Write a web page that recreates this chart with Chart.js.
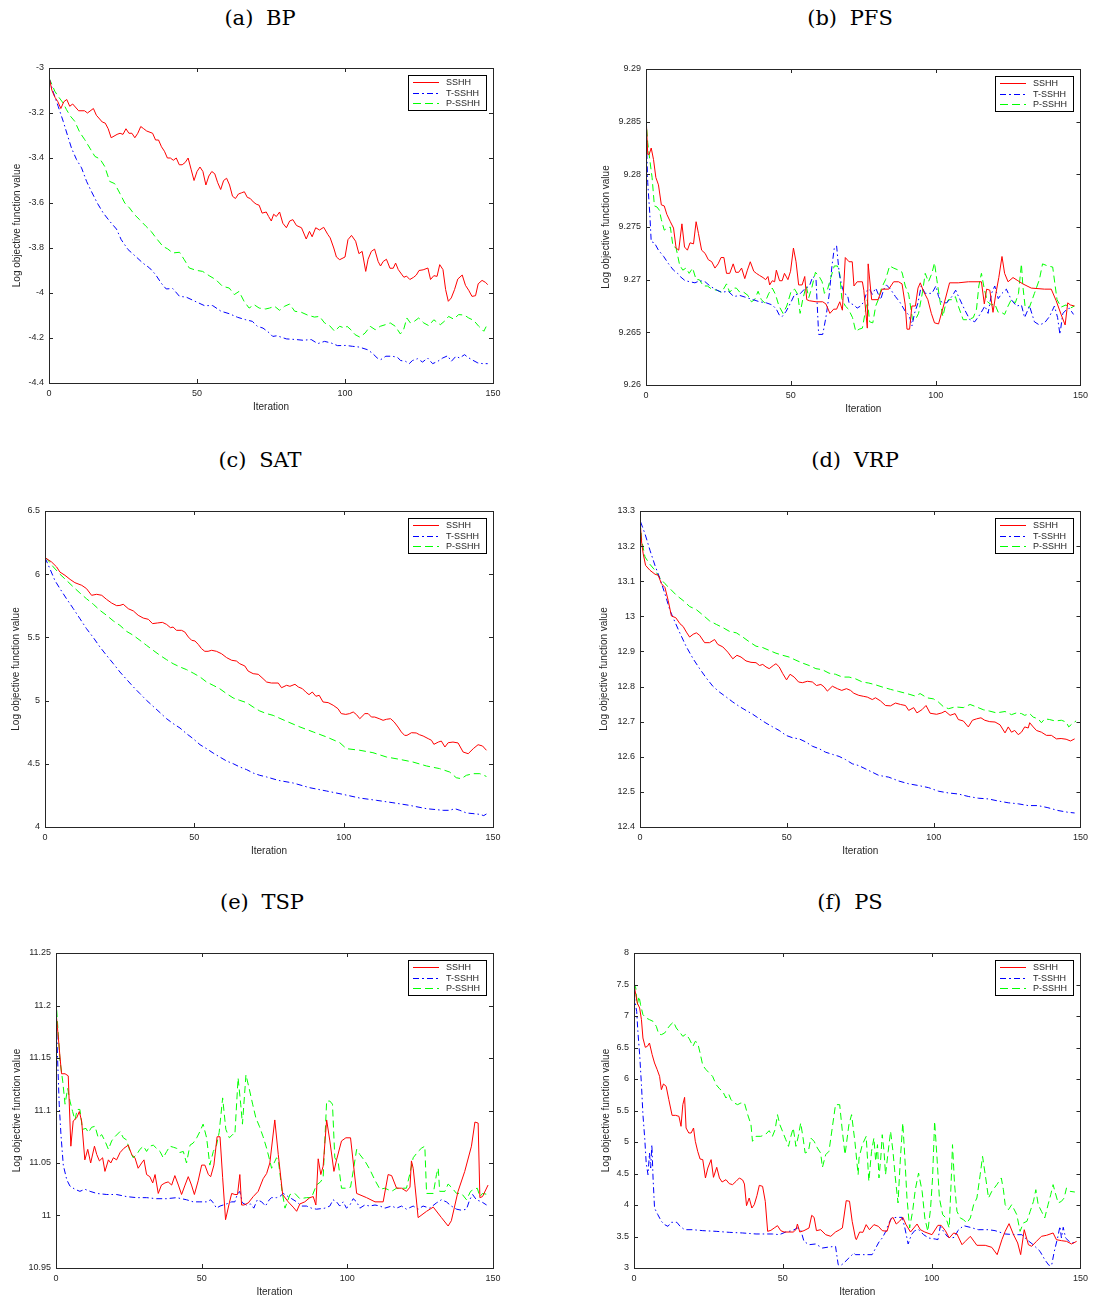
<!DOCTYPE html>
<html>
<head>
<meta charset="utf-8">
<script src="https://cdn.jsdelivr.net/npm/chart.js@4.4.1/dist/chart.umd.min.js"></script>
<style>
  body { margin: 0; background: #fff; width: 1093px; height: 1300px; position: relative; overflow: hidden; }
  .title { position: absolute; width: 300px; text-align: center; font-family: "DejaVu Serif", serif; font-size: 21px; line-height: 24px; color: #000; word-spacing: 6px; }
  canvas { position: absolute; }
</style>
</head>
<body>
<script>
// ---- data ----
const seriesNames = ['SSHH', 'T-SSHH', 'P-SSHH'];
const iterTicks = [0, 50, 100, 150];

const bpTicks = [-4.4, -4.2, -4, -3.8, -3.6, -3.4, -3.2, -3];
const pfsTicks = [9.26, 9.265, 9.27, 9.275, 9.28, 9.285, 9.29];
const satTicks = [4, 4.5, 5, 5.5, 6, 6.5];
const vrpTicks = [12.4, 12.5, 12.6, 12.7, 12.8, 12.9, 13, 13.1, 13.2, 13.3];
const tspTicks = [10.95, 11, 11.05, 11.1, 11.15, 11.2, 11.25];
const psTicks = [3, 3.5, 4, 4.5, 5, 5.5, 6, 6.5, 7, 7.5, 8];

// (a) BP
const bpSSHH = [[0,-3.04],[1,-3.10],[2,-3.13],[3,-3.15],[4,-3.18],[5,-3.15],[6,-3.14],[7,-3.17],[8,-3.16],[10,-3.19],[12,-3.19],[13,-3.20],[15,-3.18],[16,-3.21],[18,-3.24],[19,-3.245],[20,-3.27],[21,-3.31],[23,-3.295],[24,-3.29],[25,-3.295],[26,-3.27],[27,-3.29],[28,-3.29],[29,-3.31],[30,-3.29],[31,-3.26],[32,-3.27],[33,-3.28],[35,-3.29],[36,-3.32],[37,-3.32],[38,-3.35],[39,-3.37],[40,-3.40],[41,-3.40],[42,-3.41],[43,-3.40],[44,-3.43],[45,-3.43],[46,-3.42],[47,-3.40],[48,-3.45],[49,-3.50],[50,-3.46],[51,-3.44],[52,-3.46],[53,-3.52],[54,-3.48],[55,-3.46],[56,-3.47],[57,-3.51],[58,-3.54],[59,-3.50],[60,-3.49],[61,-3.52],[62,-3.57],[63,-3.58],[64,-3.56],[65,-3.555],[66,-3.55],[67,-3.575],[68,-3.58],[69,-3.595],[70,-3.605],[71,-3.61],[72,-3.645],[73.4,-3.64],[74.2,-3.66],[75.1,-3.68],[75.9,-3.65],[76.8,-3.66],[77.9,-3.64],[79,-3.69],[80.2,-3.71],[81.3,-3.68],[82.4,-3.674],[83.6,-3.70],[85.3,-3.71],[86.9,-3.76],[88,-3.726],[88.9,-3.75],[90.1,-3.71],[91.4,-3.72],[92.8,-3.708],[94.2,-3.74],[95,-3.755],[96.2,-3.80],[97.1,-3.84],[98.2,-3.852],[100,-3.84],[101,-3.763],[102.2,-3.744],[103.6,-3.77],[104.7,-3.825],[105.8,-3.815],[107,-3.904],[107.8,-3.85],[108.9,-3.815],[110,-3.805],[111.2,-3.86],[112,-3.88],[112.9,-3.86],[114,-3.85],[115.2,-3.89],[116.3,-3.89],[117.1,-3.867],[118,-3.896],[119.1,-3.916],[119.9,-3.93],[120.8,-3.925],[121.9,-3.94],[123.2,-3.93],[124.1,-3.92],[125,-3.90],[126.4,-3.897],[128,-3.889],[128.9,-3.94],[130,-3.923],[131.1,-3.926],[132,-3.874],[133.1,-3.896],[134,-3.985],[134.9,-4.037],[135.9,-4.022],[137,-3.985],[138.1,-3.938],[139.6,-3.92],[140.7,-3.966],[141.8,-3.988],[142.9,-4.015],[144.1,-4.012],[145,-3.959],[146.3,-3.944],[147.5,-3.953],[148.2,-3.963]];
const bpTSSHH = [[0,-3.044],[1.5,-3.11],[3.1,-3.17],[4.8,-3.237],[6.5,-3.31],[7.6,-3.356],[9.3,-3.407],[11,-3.444],[12.7,-3.504],[14.3,-3.548],[16.3,-3.60],[18.3,-3.644],[20.5,-3.681],[22.8,-3.716],[24.4,-3.763],[26.7,-3.807],[29.5,-3.84],[31.7,-3.867],[34,-3.889],[36,-3.918],[37.9,-3.956],[39.6,-3.982],[41.8,-3.98],[44.1,-4.015],[46.3,-4.018],[49.7,-4.039],[52.5,-4.056],[55.3,-4.056],[58.1,-4.081],[60.9,-4.092],[63.7,-4.108],[66.5,-4.119],[68.7,-4.126],[70.4,-4.148],[72.3,-4.156],[74.5,-4.178],[75.6,-4.193],[77,-4.19],[80.2,-4.204],[83.6,-4.207],[85.8,-4.21],[88.6,-4.207],[90.8,-4.225],[93.1,-4.215],[95.3,-4.222],[97.5,-4.234],[100.3,-4.233],[102.5,-4.237],[104.7,-4.24],[107.6,-4.252],[109.2,-4.267],[110.9,-4.289],[112.1,-4.296],[113.8,-4.281],[116,-4.281],[117.7,-4.286],[118.8,-4.30],[120.5,-4.304],[121.7,-4.314],[122.8,-4.30],[124.5,-4.292],[126.2,-4.307],[127.9,-4.289],[129.6,-4.314],[131.3,-4.304],[133,-4.289],[134.7,-4.279],[135.9,-4.304],[137.5,-4.281],[138.7,-4.289],[140.4,-4.274],[141.5,-4.286],[143.2,-4.299],[144.9,-4.311],[146.6,-4.314],[148.2,-4.314]];
const bpPSSHH = [[0,-3.044],[2,-3.104],[3.1,-3.126],[4.8,-3.156],[5.9,-3.185],[7.3,-3.215],[8.7,-3.237],[10.4,-3.286],[12.1,-3.319],[13.8,-3.356],[15.5,-3.393],[17.2,-3.404],[18.8,-3.437],[20.5,-3.504],[22.2,-3.514],[23.9,-3.556],[25.6,-3.60],[27.2,-3.622],[28.9,-3.652],[30.6,-3.674],[32.8,-3.704],[34.5,-3.726],[36.2,-3.756],[38.5,-3.793],[40.1,-3.804],[41.8,-3.822],[44.1,-3.819],[45.7,-3.852],[47.4,-3.889],[49.7,-3.899],[51.9,-3.904],[54.1,-3.923],[56.4,-3.941],[58.6,-3.97],[60.9,-3.978],[62.6,-4.007],[64.2,-3.993],[65.9,-4.037],[67.6,-4.067],[69.3,-4.052],[71,-4.067],[73.2,-4.071],[74.5,-4.067],[76.2,-4.059],[77.9,-4.077],[79.6,-4.059],[81.3,-4.049],[83,-4.081],[85.3,-4.086],[87.5,-4.099],[89.7,-4.107],[91.4,-4.104],[93.1,-4.133],[94.8,-4.145],[96.5,-4.17],[98.2,-4.148],[99.9,-4.156],[100.7,-4.148],[102.2,-4.166],[103.4,-4.185],[105,-4.196],[106.8,-4.178],[108.5,-4.148],[110.2,-4.163],[111.9,-4.148],[113.6,-4.141],[115.3,-4.133],[117,-4.148],[118.7,-4.182],[119.8,-4.163],[120.9,-4.111],[122.1,-4.133],[123.4,-4.126],[124.9,-4.111],[126.6,-4.133],[128.3,-4.145],[130,-4.119],[132.2,-4.141],[133.9,-4.122],[135,-4.104],[136.7,-4.116],[138.4,-4.096],[140.3,-4.098],[141.8,-4.111],[143.5,-4.122],[145.2,-4.148],[146.9,-4.17],[148,-4.141]];

// (b) PFS
const pfsSSHH = [[0,9.2857],[0.6,9.2819],[1.1,9.2819],[1.8,9.2825],[2.6,9.2814],[3.4,9.2797],[4.3,9.279],[5.3,9.2771],[6.3,9.277],[7.2,9.2762],[8.4,9.2755],[9.5,9.2749],[10.4,9.273],[11.3,9.2728],[12.4,9.2753],[13.3,9.2731],[14.3,9.2728],[15.2,9.2735],[16.4,9.2734],[17.3,9.2755],[18.1,9.2744],[19.2,9.2728],[20.4,9.2725],[21.5,9.2719],[22.7,9.2717],[23.8,9.2711],[24.9,9.2715],[25.9,9.2721],[26.9,9.2721],[27.8,9.2706],[28.9,9.2706],[30.1,9.2715],[31,9.2707],[32,9.2707],[33,9.2711],[34.1,9.2701],[35,9.2709],[36,9.2717],[37.2,9.2708],[38.1,9.2706],[39.2,9.2704],[40.4,9.2702],[41.3,9.27],[42.1,9.2703],[42.7,9.2695],[43.6,9.2699],[44.4,9.2698],[45,9.2709],[46.1,9.2699],[47,9.2699],[47.8,9.2706],[49,9.27],[49.9,9.2708],[50.9,9.273],[51.8,9.2717],[52.7,9.2695],[53.9,9.2695],[54.8,9.2703],[55.5,9.2681],[56.4,9.268],[58.7,9.2679],[61,9.2679],[62.1,9.2677],[63.5,9.2668],[64.8,9.2672],[65.8,9.2672],[66.9,9.2679],[67.8,9.2671],[68.8,9.2721],[70.1,9.2717],[71.2,9.2717],[71.8,9.2694],[72.9,9.2698],[74.7,9.2698],[75.2,9.269],[76.4,9.2654],[76.7,9.2715],[77.9,9.2681],[80.1,9.2681],[81.5,9.2691],[83.8,9.2691],[85.5,9.2698],[87.2,9.2698],[88.4,9.2696],[89.5,9.2676],[90.1,9.2653],[91,9.2653],[91.8,9.2675],[93,9.2675],[93.9,9.2692],[94.7,9.2697],[95.8,9.2689],[97.3,9.2681],[98.5,9.2668],[99.6,9.2659],[101,9.2658],[102.7,9.2675],[104.8,9.2697],[107.8,9.2697],[111.3,9.2698],[115.8,9.2698],[116.8,9.2677],[117.6,9.2691],[118.7,9.269],[119.8,9.2669],[120.8,9.2687],[121.8,9.2702],[122.9,9.2722],[123.8,9.2706],[125,9.2698],[126.7,9.2702],[128.4,9.2699],[130.1,9.2696],[133,9.2692],[137.6,9.2691],[139.9,9.2691],[141.6,9.268],[143.3,9.2667],[144.7,9.2657],[145.6,9.2678],[146.5,9.2676],[147.9,9.2675]];
const pfsTSSHH = [[0,9.2846],[0.6,9.2792],[1.3,9.2763],[1.8,9.2736],[2.9,9.2735],[4.3,9.2728],[6.1,9.2722],[7.8,9.2715],[9.5,9.2709],[10.9,9.2706],[11.8,9.2703],[13.5,9.2699],[15.2,9.2698],[16.9,9.2697],[18.6,9.2699],[20.4,9.2698],[22.1,9.2694],[23.8,9.2691],[26.1,9.2688],[28.4,9.2689],[30.3,9.2684],[32.4,9.2685],[34.7,9.2683],[37,9.2681],[39.2,9.2679],[41.5,9.2678],[43.6,9.2676],[45,9.2672],[46.1,9.2666],[47,9.2665],[48.4,9.267],[50.1,9.2679],[51.3,9.2686],[53,9.2686],[54.7,9.2691],[56.4,9.2694],[57.6,9.2703],[58.7,9.27],[59.6,9.2648],[61,9.2648],[62.1,9.2664],[63.3,9.2687],[64.2,9.2713],[65,9.273],[65.8,9.2732],[66.7,9.2706],[67.6,9.2694],[68.4,9.2687],[69.6,9.2685],[70.1,9.2678],[71.8,9.2676],[72.9,9.2673],[74.1,9.2675],[75.2,9.2679],[76.4,9.269],[77.2,9.2691],[78.1,9.2686],[79.3,9.2692],[81,9.2681],[82.1,9.2691],[83,9.2695],[84.4,9.2691],[86.1,9.2684],[87.8,9.2678],[89.5,9.267],[90.9,9.2666],[91.8,9.2656],[92.7,9.2668],[93.9,9.2678],[95,9.2694],[96.4,9.2687],[98.7,9.2687],[100.1,9.2694],[101,9.2684],[102.2,9.2678],[103.8,9.2678],[105.6,9.2684],[106.9,9.269],[108.4,9.2681],[110.1,9.2671],[111.8,9.2662],[113.5,9.266],[115.3,9.2667],[117,9.2675],[118.1,9.2668],[119.3,9.2687],[120.4,9.2694],[121.6,9.2682],[122.9,9.2687],[124.4,9.2691],[126.1,9.2681],[127.9,9.2675],[129.6,9.2676],[130.7,9.2664],[132.4,9.2675],[134.1,9.266],[135.8,9.2657],[137.6,9.2659],[139.3,9.2665],[141,9.2675],[142.1,9.2664],[142.9,9.2648],[143.9,9.2668],[145,9.2671],[146.1,9.2673],[147.6,9.2667]];
const pfsPSSHH = [[0,9.2853],[0.6,9.283],[1.3,9.2814],[2.1,9.2797],[2.9,9.277],[3.8,9.2769],[4.6,9.2766],[5.3,9.2757],[6.3,9.2747],[7.4,9.2749],[8.4,9.275],[9.3,9.2732],[10.4,9.273],[11.6,9.2714],[12.7,9.2709],[13.8,9.2711],[14.9,9.2706],[16.1,9.2711],[17.3,9.27],[18.4,9.27],[19.8,9.2694],[21.2,9.2694],[22.7,9.2691],[24.4,9.269],[26.1,9.2688],[27.8,9.2696],[28.9,9.2688],[30.1,9.2692],[31.2,9.2692],[32.4,9.2688],[33.8,9.2688],[35.2,9.2685],[36.4,9.2679],[37.5,9.2681],[38.7,9.2689],[39.8,9.2681],[41,9.2678],[42.4,9.2687],[43.6,9.2692],[44.7,9.2686],[45.9,9.2675],[47.3,9.2668],[48.6,9.2675],[50.1,9.2689],[51.3,9.2691],[52.4,9.2686],[53.2,9.2668],[54.1,9.2681],[55.3,9.2694],[56.2,9.2683],[57.3,9.2693],[58.5,9.2707],[59.8,9.2703],[60.8,9.2698],[61.6,9.2687],[62.7,9.2691],[63.8,9.2702],[65,9.2713],[66.1,9.2713],[66.9,9.2705],[67.6,9.2682],[68.8,9.2675],[69.9,9.2672],[71.3,9.2664],[72.4,9.2651],[73.6,9.2653],[74.7,9.2654],[75.6,9.2668],[76.4,9.2681],[77.2,9.266],[78.3,9.2659],[79.3,9.2675],[80.2,9.2681],[81.3,9.2692],[82.7,9.27],[84.1,9.2713],[85.5,9.2711],[87.2,9.2709],[88.4,9.2707],[89.5,9.2694],[90.7,9.2686],[92,9.2662],[93,9.2662],[94.1,9.2668],[95.5,9.2689],[96.4,9.2706],[97.5,9.2698],[98.7,9.2706],[99.6,9.2716],[100.4,9.27],[101.6,9.2678],[102.5,9.2665],[103.3,9.2675],[104.4,9.2681],[105.6,9.2681],[106.8,9.2684],[107.8,9.2675],[109.5,9.2662],[111.3,9.2662],[113,9.2664],[114.1,9.2672],[114.9,9.2694],[115.8,9.2706],[116.8,9.2691],[117.9,9.2679],[119.3,9.2676],[120.4,9.2677],[121.6,9.2669],[122.7,9.2669],[123.8,9.2667],[125,9.2675],[126.1,9.2681],[127.5,9.2678],[128.6,9.2687],[129.6,9.2715],[130.1,9.2694],[130.9,9.2674],[132.4,9.2674],[134.1,9.2687],[135.8,9.27],[136.9,9.2715],[138.7,9.2713],[140.4,9.2712],[141.9,9.2681],[143.3,9.2674],[145,9.2676],[146.5,9.2673],[147.9,9.2675]];

// (c) SAT
const satSSHH = [[0,6.131],[2.2,6.097],[3.9,6.057],[5,6.017],[6.7,5.991],[8.4,5.959],[10,5.933],[12.3,5.912],[13.9,5.886],[15.6,5.833],[17.3,5.841],[19,5.833],[20.6,5.801],[22.3,5.772],[24,5.751],[25.1,5.753],[26.2,5.762],[27.9,5.727],[29.6,5.709],[31.2,5.675],[32.9,5.653],[34.6,5.643],[36,5.609],[37.6,5.614],[39.3,5.619],[40.7,5.603],[42,5.577],[42.9,5.582],[44,5.556],[45.7,5.556],[46.8,5.543],[48,5.503],[49.1,5.477],[50.2,5.472],[51.3,5.445],[52.4,5.411],[53.5,5.39],[54.6,5.39],[55.8,5.398],[57.4,5.39],[59.1,5.371],[60.8,5.34],[62.5,5.319],[64.1,5.313],[65.2,5.292],[66.9,5.274],[68,5.234],[69.7,5.213],[71.4,5.208],[73,5.174],[74.2,5.147],[75.8,5.139],[78.1,5.139],[79.2,5.102],[80.9,5.121],[82,5.113],[83.7,5.129],[84.8,5.108],[86.2,5.094],[87.3,5.068],[88.4,5.047],[89.5,5.068],[90.7,5.034],[91.8,5.042],[93.1,4.989],[94.8,4.984],[96.5,4.963],[98.1,4.936],[99.2,4.897],[100.7,4.891],[102,4.897],[103.2,4.91],[104.3,4.889],[105.4,4.857],[107.1,4.897],[108.2,4.897],[109.3,4.87],[110.4,4.87],[111.9,4.857],[113.2,4.844],[114.3,4.852],[115.7,4.857],[116.9,4.831],[118.2,4.791],[119.3,4.752],[120.4,4.725],[121.2,4.725],[122.7,4.746],[124.3,4.744],[125.4,4.73],[126.6,4.72],[128.3,4.699],[129.4,4.686],[130.2,4.654],[131.7,4.672],[132.7,4.68],[133.9,4.633],[135,4.667],[136.6,4.672],[138.3,4.665],[140,4.593],[141.7,4.58],[143.4,4.62],[145,4.651],[146.5,4.641],[147.8,4.607]];
const satTSSHH = [[0,6.131],[1.7,6.04],[3.3,5.951],[5,5.886],[7.2,5.806],[9.5,5.727],[11.7,5.648],[13.9,5.569],[16.2,5.498],[18.4,5.424],[20.6,5.358],[22.9,5.292],[25.1,5.226],[27.3,5.168],[29.6,5.108],[31.8,5.055],[34,5.002],[36.2,4.955],[38.5,4.905],[40.7,4.857],[42.9,4.818],[45.2,4.783],[47.4,4.738],[49.6,4.699],[51.9,4.651],[54.1,4.62],[56.3,4.585],[58.5,4.554],[60.8,4.522],[63,4.501],[65.2,4.475],[67.5,4.454],[69.7,4.427],[71.9,4.409],[74.2,4.396],[78.1,4.369],[83.1,4.348],[88.6,4.311],[94.2,4.285],[99.8,4.258],[105.4,4.229],[111,4.211],[116.5,4.192],[122.1,4.171],[127.7,4.145],[133.3,4.132],[135.5,4.132],[137.2,4.145],[138.9,4.132],[141.1,4.111],[143.3,4.106],[145.6,4.1],[146.9,4.09],[147.8,4.103]];
const satPSSHH = [[0,6.131],[0.6,6.123],[2.8,6.057],[5,6.0],[7.2,5.951],[9.5,5.899],[11.7,5.851],[13.9,5.806],[16.2,5.762],[18.4,5.714],[20.6,5.675],[22.9,5.63],[25.1,5.595],[27.3,5.548],[29.6,5.516],[31.8,5.477],[34,5.437],[36.2,5.398],[38.5,5.358],[40.7,5.324],[42.9,5.292],[45.2,5.266],[47.4,5.245],[49.6,5.218],[51.9,5.187],[54.1,5.147],[56.3,5.121],[58.5,5.094],[60.8,5.055],[63,5.021],[65.2,5.002],[67.5,4.984],[69.7,4.949],[71.9,4.918],[74.2,4.897],[76.4,4.883],[80.9,4.836],[85.4,4.791],[89.8,4.752],[94.3,4.712],[98.7,4.667],[100.9,4.62],[105.4,4.607],[109.8,4.588],[114.3,4.554],[118.8,4.535],[123.2,4.514],[127.7,4.483],[132.1,4.462],[135.5,4.435],[137.7,4.39],[139.4,4.382],[141.1,4.409],[143.4,4.422],[145.6,4.422],[147.8,4.4]];

// (d) VRP
const vrpSSHH = [[0,13.273],[0.6,13.207],[1.1,13.178],[1.9,13.145],[3.4,13.131],[5.1,13.12],[6.2,13.117],[7.3,13.093],[8.5,13.082],[9.6,13.045],[10.7,13.001],[12.2,12.996],[13.6,12.979],[14.7,12.971],[15.8,12.955],[16.9,12.941],[18.1,12.949],[19.2,12.953],[20.3,12.946],[22,12.925],[23.7,12.925],[25.4,12.934],[26.5,12.92],[28.2,12.913],[29.9,12.898],[31.6,12.879],[33,12.889],[34.4,12.884],[36.1,12.873],[37.8,12.869],[39.5,12.868],[40.7,12.86],[41.8,12.863],[42.9,12.856],[44,12.851],[45.4,12.86],[46.3,12.865],[47.4,12.856],[48.6,12.837],[49.9,12.819],[51.1,12.835],[52.5,12.827],[54,12.813],[55.3,12.811],[57,12.815],[58.7,12.813],[60.1,12.803],[61.6,12.806],[62.7,12.799],[63.8,12.787],[65.5,12.801],[67.2,12.794],[68.7,12.789],[70.3,12.794],[71.7,12.789],[72.8,12.781],[74.5,12.775],[76.2,12.772],[77.4,12.77],[79.1,12.763],[80.2,12.768],[81.9,12.759],[83.6,12.746],[85.3,12.745],[87,12.753],[88.7,12.749],[90.4,12.746],[91.5,12.732],[93.2,12.74],[94.3,12.725],[96,12.734],[97.4,12.746],[98.8,12.724],[101,12.721],[102.8,12.725],[103.9,12.73],[105.6,12.718],[107.3,12.723],[108.4,12.706],[110.1,12.702],[111.8,12.685],[113.2,12.704],[114.6,12.708],[116.1,12.711],[117.4,12.704],[119.1,12.7],[120.9,12.699],[122.6,12.691],[124.3,12.668],[125.4,12.685],[126.5,12.67],[127.6,12.675],[128.8,12.663],[129.9,12.67],[131,12.685],[132.2,12.682],[132.7,12.697],[133.9,12.685],[135,12.675],[136.7,12.67],[138.4,12.661],[140.1,12.661],[141.8,12.651],[143.4,12.652],[145.1,12.65],[146.6,12.645],[148,12.651]];
const vrpTSSHH = [[0.2,13.269],[1.7,13.235],[3.4,13.188],[5.1,13.145],[6.8,13.107],[8.5,13.064],[10.2,13.017],[11.9,12.984],[13.6,12.952],[15.8,12.913],[18.1,12.879],[20.3,12.851],[22.6,12.824],[24.8,12.801],[27.1,12.784],[29.4,12.77],[31.6,12.756],[33.9,12.743],[36.1,12.732],[38.4,12.721],[40.7,12.708],[42.9,12.696],[45.2,12.685],[47.4,12.675],[49.7,12.661],[52,12.654],[54.2,12.651],[56.5,12.642],[58.7,12.63],[61,12.623],[63.2,12.613],[65.5,12.607],[67.8,12.601],[70,12.592],[72.3,12.58],[74.5,12.575],[77.9,12.561],[81.3,12.547],[84.7,12.542],[88.1,12.531],[91.5,12.523],[94.9,12.518],[98.3,12.512],[101.6,12.502],[105,12.497],[108.4,12.494],[111.8,12.487],[115.2,12.482],[118.6,12.48],[122,12.474],[125.4,12.469],[128.8,12.466],[132.2,12.461],[135.5,12.461],[138.9,12.455],[142.3,12.447],[145.7,12.442],[148,12.44]];
const vrpPSSHH = [[0,13.269],[0.6,13.216],[1.7,13.169],[3.4,13.148],[5.1,13.131],[6.8,13.109],[8.5,13.093],[10.2,13.079],[12.4,13.06],[14.7,13.045],[16.9,13.028],[19.2,13.019],[21.5,13.003],[23.7,12.987],[26,12.977],[28.2,12.968],[30.5,12.957],[32.8,12.953],[35,12.941],[37.3,12.927],[39.5,12.915],[41.8,12.911],[44,12.903],[46.3,12.895],[48.6,12.889],[50.8,12.884],[53.1,12.875],[55.3,12.867],[57.6,12.86],[59.9,12.851],[62.1,12.848],[64.4,12.838],[66.6,12.835],[68.9,12.827],[71.2,12.827],[73.4,12.822],[75.7,12.813],[77.9,12.81],[80.2,12.805],[82.4,12.799],[85.3,12.792],[88.1,12.786],[90.9,12.78],[93.7,12.773],[95.4,12.78],[97.7,12.768],[99.9,12.765],[101.6,12.756],[103.4,12.742],[105.1,12.737],[107.3,12.742],[110.1,12.74],[112.4,12.749],[114.6,12.742],[116.9,12.734],[119.1,12.73],[121.4,12.725],[124.3,12.729],[126.5,12.72],[128.2,12.725],[129.9,12.723],[131,12.718],[132.7,12.723],[133.9,12.713],[135.6,12.708],[136.7,12.697],[137.8,12.708],[139.5,12.706],[141.3,12.702],[143.5,12.704],[145.1,12.699],[146,12.685],[147.4,12.696],[148.5,12.702]];

// (e) TSP
const tspSSHH = [[0,11.194],[0.5,11.179],[1.4,11.15],[1.9,11.135],[3.1,11.135],[4.2,11.133],[5.1,11.066],[5.9,11.09],[7.1,11.093],[8,11.099],[8.8,11.09],[9.9,11.053],[10.9,11.063],[11.9,11.05],[13.2,11.066],[14,11.058],[14.9,11.052],[16,11.055],[16.8,11.042],[18,11.053],[18.8,11.05],[19.7,11.055],[20.8,11.053],[22,11.06],[23.3,11.064],[24.8,11.067],[26,11.058],[27.1,11.055],[28.2,11.045],[29.4,11.05],[30.2,11.053],[31.1,11.039],[32.2,11.037],[33.2,11.031],[34,11.039],[35.1,11.021],[36.2,11.029],[37.4,11.031],[38.5,11.032],[39.7,11.029],[40.8,11.038],[42,11.029],[43.1,11.02],[44.3,11.029],[45.4,11.037],[46.5,11.029],[47.5,11.02],[48.8,11.033],[50,11.048],[51.1,11.048],[52.3,11.039],[53.1,11.037],[54.2,11.048],[55.3,11.075],[56.3,11.075],[57.2,11.036],[58.2,10.996],[59.5,11.012],[60.3,11.021],[61.4,11.02],[62.3,11.02],[63.1,11.039],[63.7,11.01],[64.5,11.01],[66,11.012],[67.7,11.018],[69.4,11.023],[71.1,11.035],[72.3,11.04],[73.4,11.05],[75.1,11.091],[76.3,11.058],[77.8,11.02],[79.7,11.013],[81.4,11.008],[82.6,11.004],[83.7,11.011],[85.4,11.013],[87.1,11.017],[88.3,11.018],[89.2,11.01],[90,11.054],[90.9,11.039],[91.7,11.047],[92.9,11.091],[94,11.071],[95.4,11.042],[96.3,11.053],[98,11.071],[99.5,11.074],[101.1,11.074],[103.2,11.021],[106.6,11.017],[109.5,11.013],[112.3,11.013],[114,11.039],[115.2,11.038],[116.9,11.026],[118.6,11.026],[120.3,11.023],[121.5,11.027],[122,11.052],[122.6,11.045],[123.2,11.029],[124.3,10.998],[127.2,11.004],[129.5,11.008],[132.3,10.998],[134.6,10.99],[135.7,10.995],[138,11.023],[140.3,11.042],[142.6,11.066],[143.8,11.089],[144.9,11.088],[145.5,11.017],[146.4,11.018],[148.3,11.029]];
const tspTSSHH = [[0,11.199],[0.5,11.153],[1.1,11.106],[1.7,11.077],[2.5,11.048],[3.7,11.034],[4.8,11.028],[6.5,11.025],[8.2,11.023],[9.9,11.025],[11.7,11.023],[14,11.021],[17.4,11.02],[20.8,11.02],[24.2,11.018],[27.7,11.017],[31.1,11.017],[34.5,11.016],[38,11.016],[41.4,11.017],[44.8,11.015],[47.1,11.013],[49.4,11.013],[51.7,11.013],[53.1,11.015],[54,11.012],[55.1,11.007],[56.3,11.009],[58.5,11.011],[60.3,11.013],[61.4,11.013],[62.2,11.02],[63.1,11.023],[64,11.012],[65.4,11.01],[66.8,11.011],[67.9,11.007],[69.1,11.015],[70.6,11.013],[71.9,11.009],[73.2,11.015],[74,11.017],[75.7,11.017],[76.8,11.018],[78,11.021],[79.7,11.018],[80.9,11.016],[82.6,11.013],[84.3,11.009],[86,11.009],[87.7,11.007],[89.4,11.006],[92.3,11.007],[94,11.009],[95.1,11.015],[96.3,11.013],[97.4,11.009],[98.6,11.013],[99.7,11.007],[100.9,11.01],[102,11.016],[103.2,11.013],[104.3,11.007],[106,11.01],[107.7,11.009],[109.5,11.01],[111.2,11.009],[112.9,11.007],[115.2,11.009],[116.9,11.007],[118.6,11.009],[120.3,11.006],[122.6,11.009],[124.3,11.006],[126,11.009],[128.3,11.007],[130.6,11.012],[132.3,11.015],[134,11.013],[135.7,11.009],[137.5,11.006],[139.2,11.005],[140.9,11.006],[142,11.015],[143,11.02],[144.3,11.015],[146.1,11.013],[147.8,11.01]];
const tspPSSHH = [[0,11.206],[0.8,11.172],[1.4,11.147],[2.3,11.128],[3.1,11.106],[4,11.121],[4.8,11.109],[5.7,11.099],[6.5,11.091],[7.3,11.101],[8.2,11.101],[9.1,11.082],[10.3,11.083],[11.1,11.079],[12.2,11.084],[13.4,11.085],[14.5,11.074],[15.7,11.077],[16.8,11.071],[18,11.063],[19.1,11.071],[20.2,11.075],[22,11.08],[23.1,11.074],[24.2,11.072],[25.4,11.061],[26.5,11.055],[27.7,11.058],[28.8,11.063],[30,11.066],[31.1,11.061],[32.2,11.066],[33.4,11.067],[34.5,11.064],[35.7,11.061],[36.8,11.055],[38,11.061],[39.1,11.066],[40.3,11.065],[41.4,11.064],[42.5,11.06],[43.7,11.061],[44.8,11.05],[46,11.067],[47.1,11.069],[48.3,11.074],[49.4,11.08],[50.5,11.087],[51.7,11.074],[52.8,11.048],[54,11.061],[55.1,11.067],[56,11.079],[57.2,11.112],[58.3,11.082],[59.5,11.074],[60.6,11.077],[61.4,11.077],[62.5,11.131],[63.4,11.106],[64,11.087],[65.2,11.134],[66.3,11.121],[67.5,11.106],[68.6,11.093],[69.8,11.085],[71.1,11.075],[72.3,11.064],[73.4,11.052],[74,11.045],[75.7,11.055],[76.3,11.053],[77.6,11.023],[78.6,11.007],[80.3,11.02],[82,11.021],[83.7,11.016],[86,11.017],[87.7,11.017],[89.4,11.029],[90.8,11.032],[91.7,11.036],[92.9,11.109],[94,11.109],[94.9,11.106],[95.7,11.055],[96.9,11.05],[98,11.026],[99.5,11.026],[101.1,11.027],[102,11.042],[103.2,11.063],[104.3,11.058],[106,11.052],[107.7,11.044],[109.4,11.034],[111.2,11.025],[112.9,11.026],[115.2,11.023],[116.9,11.026],[118.6,11.026],[120.3,11.026],[121.4,11.039],[122.6,11.055],[124.3,11.061],[125.4,11.064],[126.6,11.066],[127.2,11.021],[129.5,11.021],[130.6,11.039],[131.2,11.045],[131.7,11.023],[133.5,11.023],[134.6,11.03],[135.7,11.027],[137.5,11.021],[139.2,11.021],[140.9,11.015],[142.3,11.023],[143.5,11.025],[144.6,11.026],[145.5,11.018],[146.4,11.021],[148.3,11.02]];

// (f) PS
const psSSHH = [[0,7.497],[0.6,7.339],[1.1,7.206],[1.9,7.127],[2.5,6.942],[3,6.651],[3.8,6.503],[4.5,6.519],[5.2,6.571],[6.1,6.386],[6.9,6.254],[7.8,6.148],[8.6,6.042],[9.2,5.831],[9.9,5.921],[10.8,5.884],[11.7,5.672],[12.8,5.423],[14,5.423],[15.1,5.407],[15.8,5.249],[16.4,5.593],[17,5.709],[17.5,5.222],[18.4,5.143],[19.2,5.143],[20,5.222],[20.6,5.011],[21.4,4.852],[22.2,4.73],[23.1,4.72],[24,4.429],[24.8,4.587],[25.9,4.72],[26.7,4.439],[27.8,4.598],[28.7,4.429],[29.6,4.365],[30.9,4.402],[32,4.339],[33.1,4.323],[34.3,4.376],[35.4,4.429],[36.5,4.397],[37.1,4.333],[37.8,3.989],[38.7,4.111],[39.6,3.952],[40.4,4.005],[41.3,4.148],[42.1,4.312],[43.2,4.296],[44.1,4.058],[44.9,3.582],[46,3.598],[47.1,3.635],[48.2,3.672],[49.3,3.593],[50.4,3.571],[52.1,3.571],[53.5,3.571],[54.4,3.608],[54.9,3.698],[55.7,3.571],[57.1,3.593],[58.8,3.635],[59.7,3.836],[60.5,3.804],[61.3,3.593],[62.7,3.608],[64.4,3.529],[66.1,3.503],[67.7,3.571],[69.1,3.608],[70,3.635],[71.3,4.069],[72.4,4.06],[73.3,3.741],[74.4,3.476],[74.7,3.45],[75.8,3.571],[76.9,3.566],[78,3.688],[79.1,3.608],[80.6,3.688],[82.1,3.661],[83.4,3.593],[85,3.582],[86.2,3.767],[87,3.804],[88.1,3.698],[89.2,3.741],[90.3,3.804],[91.4,3.688],[92.9,3.571],[94,3.635],[95.1,3.698],[96.2,3.608],[97.7,3.571],[100.1,3.529],[102.1,3.677],[103.2,3.677],[104.6,3.593],[105.9,3.476],[107.4,3.556],[108.5,3.54],[110.2,3.37],[111.3,3.423],[113,3.503],[115.2,3.36],[118,3.36],[120.2,3.328],[122,3.212],[123.6,3.45],[124.7,3.582],[126,3.704],[127.5,3.529],[128.9,3.397],[129.9,3.212],[131.1,3.608],[132.5,3.37],[133.6,3.344],[135.2,3.423],[136.9,3.503],[138.6,3.519],[140.8,3.556],[141.9,3.45],[143.6,3.434],[145.3,3.423],[147,3.381],[148.7,3.423]];
const psTSSHH = [[0,7.339],[0.4,7.206],[0.9,7.074],[1.3,6.757],[1.9,6.386],[2.5,5.91],[3,5.434],[3.6,5.063],[4.1,4.667],[4.7,4.481],[5.2,4.825],[5.6,4.587],[6,4.958],[6.4,4.429],[6.9,3.952],[8,3.847],[9.2,3.741],[10.3,3.688],[11.4,3.661],[12.5,3.725],[14.4,3.725],[15.5,3.661],[17,3.608],[19.8,3.608],[23.1,3.593],[27.6,3.582],[32,3.566],[36.5,3.556],[41,3.54],[44.3,3.54],[46.5,3.54],[48.8,3.529],[51,3.571],[53.2,3.593],[54.9,3.635],[56,3.608],[57.1,3.423],[58.8,3.37],[61,3.381],[63.3,3.317],[65.5,3.333],[67.7,3.344],[68.6,3.053],[69.4,3.037],[70.5,3.079],[72.2,3.159],[73.9,3.238],[74.4,3.212],[76.7,3.212],[78.4,3.212],[80,3.212],[81.2,3.317],[82.3,3.413],[83.4,3.476],[84.6,3.582],[85.7,3.714],[86.5,3.794],[88.4,3.804],[90.1,3.804],[91,3.635],[92.1,3.381],[93.2,3.529],[94.3,3.593],[95.7,3.608],[97.3,3.529],[99,3.476],[101.2,3.46],[102.1,3.45],[102.9,3.661],[104,3.582],[105.2,3.503],[106.3,3.476],[107.7,3.487],[108.8,3.593],[110.7,3.672],[112.9,3.646],[115.7,3.608],[119.1,3.608],[121.3,3.593],[124.7,3.54],[128,3.529],[130.3,3.529],[132,3.45],[134.1,3.37],[136.4,3.265],[138,3.132],[139.4,3.042],[140.3,3.042],[141.2,3.265],[142.3,3.476],[143.1,3.661],[143.6,3.476],[144.2,3.646],[145,3.476],[146.4,3.413],[148.1,3.397]];
const psPSSHH = [[0,7.524],[0.6,7.444],[1.1,7.18],[1.7,7.312],[2.2,7.18],[3,7.021],[4.1,6.968],[5.2,6.942],[6.4,6.915],[7.5,6.836],[8.3,6.714],[9.2,6.704],[10.3,6.73],[11.4,6.81],[12.5,6.873],[13.3,6.905],[14.2,6.81],[15.3,6.746],[16.4,6.677],[17.5,6.714],[18.6,6.635],[19.8,6.519],[20.6,6.598],[21.4,6.571],[22.2,6.413],[23.1,6.217],[24.2,6.148],[25.3,6.095],[26.4,6.042],[27.6,5.91],[28.7,5.847],[29.8,5.804],[30.9,5.698],[31.8,5.762],[32.6,5.672],[33.7,5.619],[34.8,5.593],[35.9,5.619],[37.1,5.619],[38.2,5.434],[39.3,5.275],[39.8,5.011],[41,5.09],[42.6,5.09],[44.1,5.116],[45.4,5.18],[46.5,5.09],[47.4,5.196],[48.2,5.434],[49,5.275],[49.9,5.169],[51,5.037],[51.9,4.931],[52.7,5.09],[53.5,5.222],[54.4,4.931],[55.2,5.09],[56,5.302],[56.8,5.063],[57.5,4.825],[58.6,4.852],[59.4,5.063],[60.5,5.011],[61.6,4.905],[62.7,4.825],[63.3,4.598],[64.4,4.799],[65.5,4.852],[66.6,5.222],[67.7,5.593],[69.1,5.593],[70,5.169],[70.9,4.799],[72.2,5.275],[73.1,5.434],[74.2,5.011],[75.3,4.481],[75.6,4.746],[76.7,4.958],[78,5.09],[78.9,4.376],[79.8,4.852],[80.6,5.063],[81.2,4.693],[81.8,4.958],[82.3,4.429],[82.9,4.746],[83.4,5.116],[84,4.852],[84.5,4.481],[85.4,4.852],[86.2,5.169],[87,4.852],[87.8,4.429],[88.7,4.032],[89.5,4.746],[90.3,5.302],[91,4.746],[91.7,4.111],[92.6,3.635],[93.6,3.899],[94.5,4.243],[95.6,4.508],[96.8,4.217],[97.7,3.794],[98.7,3.582],[99.6,3.926],[100.3,4.429],[101,5.328],[101.8,4.746],[102.6,4.111],[103.7,3.847],[104.8,3.794],[105.9,3.635],[106.6,4.429],[107,4.958],[107.7,4.323],[108.5,3.899],[109.6,3.794],[110.7,3.767],[111.8,3.714],[113,3.794],[114.1,4.005],[115.2,4.111],[116.3,4.481],[117.1,4.772],[118,4.481],[119.1,4.111],[120.2,4.217],[121.9,4.323],[123.4,4.429],[124.1,4.243],[124.7,4.005],[125.8,3.926],[126.9,4.005],[128.6,3.847],[129.7,3.582],[130.8,3.714],[132,3.741],[133.1,3.899],[134.2,4.058],[135,4.243],[135.8,4.005],[136.9,3.899],[138,3.794],[139.1,4.005],[140,4.164],[140.8,4.323],[141.4,4.217],[142.5,4.032],[143.6,4.058],[144.5,4.111],[145.3,4.27],[146.5,4.217],[148.1,4.206]];

// ---- panel layout (plot box in page pixels: left, top, right, bottom) ----
const panels = [
  { title: '(a) BP',  tx: 260, ty: 18,  box: [49, 68, 493, 383],   yTitleX: 17,  yTicks: bpTicks,  series: [bpSSHH, bpTSSHH, bpPSSHH] },
  { title: '(b) PFS', tx: 850, ty: 18,  box: [646, 69, 1083, 385], yTitleX: 606, yTicks: pfsTicks, series: [pfsSSHH, pfsTSSHH, pfsPSSHH] },
  { title: '(c) SAT', tx: 260, ty: 460, box: [45, 511, 493, 827],  yTitleX: 16,  yTicks: satTicks, series: [satSSHH, satTSSHH, satPSSHH] },
  { title: '(d) VRP', tx: 855, ty: 460, box: [640, 511, 1083, 827], yTitleX: 604, yTicks: vrpTicks, series: [vrpSSHH, vrpTSSHH, vrpPSSHH] },
  { title: '(e) TSP', tx: 262, ty: 902, box: [56, 953, 493, 1268], yTitleX: 17,  yTicks: tspTicks, series: [tspSSHH, tspTSSHH, tspPSSHH] },
  { title: '(f) PS',  tx: 850, ty: 902, box: [634, 953, 1082, 1268], yTitleX: 606, yTicks: psTicks,  series: [psSSHH, psTSSHH, psPSSHH] }
];

const lineColors = ['#ff0000', '#0000ff', '#00ff00'];
const lineDashes = [[], [6, 3, 1.5, 3], [7, 4]];
// legend samples as [start, length] runs along a 26px stroke
const legendRuns = [[[0, 26]], [[0, 6], [9, 2], [14, 6], [23, 2]], [[0, 8], [12, 8], [24, 2]]];
const axisColor = '#262626';
const tickFont = { family: 'Liberation Sans, Arial, sans-serif', size: 9 };
const titleFont = { family: 'Liberation Sans, Arial, sans-serif', size: 10 };

// MATLAB-like frame with inward ticks on all four sides, plus the boxed legend
const matlabFrame = {
  id: 'matlabFrame',
  afterDraw(chart) {
    const { ctx, chartArea: a, scales } = chart;
    ctx.save();
    ctx.strokeStyle = axisColor;
    ctx.lineWidth = 1;
    ctx.setLineDash([]);
    ctx.strokeRect(Math.round(a.left) + 0.5, Math.round(a.top) + 0.5,
      Math.round(a.right - a.left), Math.round(a.bottom - a.top));
    ctx.beginPath();
    scales.x.ticks.forEach(t => {
      const px = Math.round(scales.x.getPixelForValue(t.value)) + 0.5;
      ctx.moveTo(px, a.bottom); ctx.lineTo(px, a.bottom - 4);
      ctx.moveTo(px, a.top); ctx.lineTo(px, a.top + 4);
    });
    scales.y.ticks.forEach(t => {
      const py = Math.round(scales.y.getPixelForValue(t.value)) + 0.5;
      ctx.moveTo(a.left, py); ctx.lineTo(a.left + 4, py);
      ctx.moveTo(a.right, py); ctx.lineTo(a.right - 4, py);
    });
    ctx.stroke();

    // legend box
    const w = 78, h = 35;
    const x0 = Math.round(a.right - 7 - w), y0 = Math.round(a.top + 7);
    ctx.fillStyle = '#fff';
    ctx.fillRect(x0, y0, w, h);
    ctx.strokeStyle = '#000';
    ctx.strokeRect(x0 + 0.5, y0 + 0.5, w, h);
    ctx.font = '9px "Liberation Sans", Arial, sans-serif';
    ctx.textBaseline = 'middle';
    seriesNames.forEach((name, k) => {
      const yy = y0 + 7 + Math.round(k * 10.5);
      ctx.fillStyle = lineColors[k];
      legendRuns[k].forEach(([s, len]) => ctx.fillRect(x0 + 5 + s, yy, len, 1));
      ctx.fillStyle = axisColor;
      ctx.fillText(name, x0 + 38, yy + 0.5);
    });
    ctx.restore();
  }
};

function makePanel(p) {
  const [l, t, r, b] = p.box;
  const leftCol = l < 546;
  const cx = leftCol ? 0 : 546, cw = leftCol ? 546 : 547;
  const cy = t - 40, ch = (b + 50) - cy;

  const title = document.createElement('div');
  title.className = 'title';
  title.textContent = p.title;
  title.style.left = (p.tx - 150) + 'px';
  title.style.top = (p.ty - 12) + 'px';
  document.body.appendChild(title);

  const canvas = document.createElement('canvas');
  canvas.width = cw; canvas.height = ch;
  canvas.style.left = cx + 'px'; canvas.style.top = cy + 'px';
  canvas.style.width = cw + 'px'; canvas.style.height = ch + 'px';
  document.body.appendChild(canvas);

  const yW = l - p.yTitleX + 10;
  const xH = 34;

  new Chart(canvas, {
    type: 'line',
    data: {
      datasets: p.series.map((s, k) => ({
        label: seriesNames[k],
        data: s.map(([x, y]) => ({ x, y })),
        borderColor: lineColors[k],
        borderDash: lineDashes[k].slice(),
        borderWidth: 1,
        pointRadius: 0,
        tension: 0,
        fill: false
      }))
    },
    options: {
      responsive: false,
      animation: false,
      devicePixelRatio: 1,
      layout: { padding: { left: l - cx - yW, top: t - cy, right: cx + cw - r, bottom: (cy + ch) - b - xH } },
      plugins: { legend: { display: false }, tooltip: { enabled: false } },
      scales: {
        x: {
          type: 'linear', min: 0, max: 150,
          afterBuildTicks: s => { s.ticks = iterTicks.map(v => ({ value: v })); },
          afterFit: s => { s.height = xH; },
          grid: { display: false, drawTicks: false },
          border: { display: false },
          ticks: { autoSkip: false, maxRotation: 0, padding: 5, color: axisColor, font: tickFont, callback: v => String(v) },
          title: { display: true, text: 'Iteration', color: axisColor, font: titleFont }
        },
        y: {
          type: 'linear', min: p.yTicks[0], max: p.yTicks[p.yTicks.length - 1],
          afterBuildTicks: s => { s.ticks = p.yTicks.map(v => ({ value: v })); },
          afterFit: s => { s.width = yW; },
          grid: { display: false, drawTicks: false },
          border: { display: false },
          ticks: { autoSkip: false, padding: 5, color: axisColor, font: tickFont, callback: v => String(v) },
          title: { display: true, text: 'Log objective function value', color: axisColor, font: titleFont }
        }
      }
    },
    plugins: [matlabFrame]
  });
}

panels.forEach(makePanel);
</script>
</body>
</html>
